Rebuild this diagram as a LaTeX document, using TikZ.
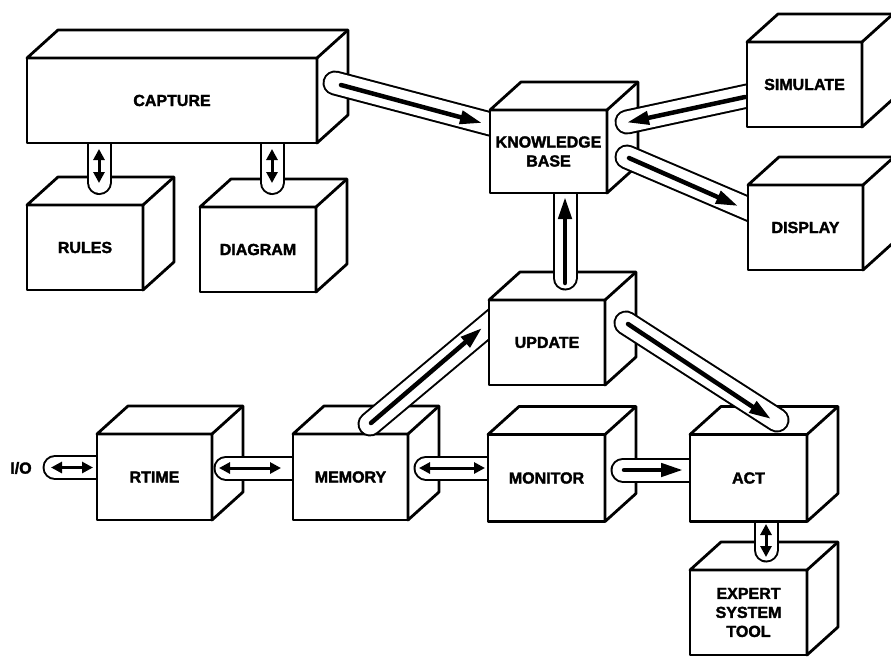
\documentclass[tikz,border=0pt]{standalone}
\usepackage{fontspec}
\setmainfont{Liberation Sans}[BoldFeatures={FakeBold=2}]
\usetikzlibrary{calc,arrows.meta}

\tikzset{
  blockface/.style={draw, fill=white, line width=2.8pt, line join=round,
    inner sep=0pt, outer sep=0pt, align=center,
    font=\bfseries\fontsize{16}{19}\selectfont},
  blockedge/.style={draw, fill=white, line width=2.8pt, line join=round},
  pipe/.style={double=white, double distance=21pt, line width=2pt, line cap=round},
  oneway/.style={line width=4.5pt, line cap=round, -{Triangle[length=22pt,width=13pt]}},
  twoway/.style={line width=3pt, {Triangle[length=11pt,width=11pt]}-{Triangle[length=11pt,width=11pt]}},
  tag/.style={font=\bfseries\fontsize{16}{19}\selectfont, inner sep=0pt}
}

% a block seen in perspective: front face (node), top face and right face
\newcommand\blockcube[5]{%
  \node[blockface, minimum width=#3pt, minimum height=#4pt] (#1) at (#2) {#5};
  \draw[blockedge] (#1.north west) -- ++(31,-28)
    -- ([shift={(31,-28)}]#1.north east)
    -- ([shift={(31,-28)}]#1.south east)
    -- (#1.south east) -- (#1.north east) -- cycle;
  \draw[blockedge] (#1.north east) -- ++(31,-28);
}

\begin{document}
\begin{tikzpicture}[x=1pt, y=-1pt]
\useasboundingbox (0,0) rectangle (891,656);

% --- upper left group ---
\blockcube{rules}{85,247.5}{116}{85}{RULES}
\blockcube{diagram}{258,249.5}{116}{85}{DIAGRAM}
\path (172,100.5) coordinate (capc);
\draw[pipe] ($(capc)+(-73,39.5)$) -- ($(rules)+(14,-65)$);
\draw[twoway] ($(capc)+(-73,48.5)$) -- ($(rules)+(14,-64.5)$);
\draw[pipe] ($(capc)+(100,39.5)$) -- ($(diagram)+(14,-67)$);
\draw[twoway] ($(capc)+(100,48.5)$) -- ($(diagram)+(14,-66.5)$);
\blockcube{capture}{172,100.5}{290}{85}{CAPTURE}

% capture feeds the knowledge base
\path (548.5,151.5) coordinate (kbc);
\draw[pipe] ($(capture)+(163,-17.5)$) -- ($(kbc)+(-50.5,-25.5)$);
\draw[oneway] ($(capture)+(169,-15.5)$) -- ($(kbc)+(-66.5,-28.5)$);

% --- lower row ---
\node[tag] (io) at (21,468) {I/O};
\path (154.5,477) coordinate (rtc);
\draw[pipe] ($(io)+(34,-0.5)$) -- ($(rtc)+(-54.5,-9.5)$);
\draw[twoway] ($(io)+(30,-0.5)$) -- ($(rtc)+(-61.5,-9.5)$);
\blockcube{rtime}{154.5,477}{115}{86}{RTIME}

\path (350.5,477) coordinate (memc);
\draw[pipe] ($(rtime)+(71.5,-9)$) -- ($(memc)+(-54.5,-9)$);
\draw[twoway] ($(rtime)+(64.5,-9)$) -- ($(memc)+(-69.5,-9)$);
\blockcube{memory}{350.5,477}{115}{86}{MEMORY}

\path (547,342.5) coordinate (updc);
\draw[pipe] ($(memory)+(19.5,-53)$) -- ($(updc)+(-47,-27.5)$);
\draw[oneway] ($(memory)+(20.5,-54)$) -- ($(updc)+(-65,-14.5)$);

\path (546.5,478) coordinate (monc);
\draw[pipe] ($(memory)+(75.5,-9)$) -- ($(monc)+(-55.5,-10)$);
\draw[twoway] ($(memory)+(68.5,-9)$) -- ($(monc)+(-61.5,-10)$);
\blockcube{monitor}{546.5,478}{117}{87}{MONITOR}

\path (748.5,478) coordinate (actc);
\draw[pipe] ($(monitor)+(76.5,-8)$) -- ($(actc)+(-55.5,-8)$);
\draw[oneway] ($(monitor)+(77.5,-8)$) -- ($(actc)+(-65.5,-8)$);

\blockcube{expert}{748.5,612.5}{117}{85}{EXPERT\\SYSTEM\\TOOL}
\draw[pipe] ($(actc)+(17.5,37)$) -- ($(expert)+(17.5,-62.5)$);
\draw[twoway] ($(actc)+(17.5,46)$) -- ($(expert)+(17.5,-55.5)$);
\blockcube{act}{748.5,478}{117}{87}{ACT}

% --- update and knowledge base ---
\blockcube{update}{547,342.5}{116}{85}{UPDATE}
\draw[pipe] ($(update)+(18,-64.5)$) -- ($(kbc)+(16.5,33.5)$);
\draw[oneway] ($(update)+(18,-59.5)$) -- ($(kbc)+(16.5,45.5)$);
\blockcube{kb}{548.5,151.5}{117}{83}{KNOWLEDGE\\BASE}

\path (804.5,84.5) coordinate (simc);
\path (805.5,227.5) coordinate (disc);
\draw[pipe] ($(kb)+(78.5,-29.5)$) -- ($(simc)+(-52.5,10.5)$);
\draw[oneway] ($(simc)+(-59.5,12.5)$) -- ($(kb)+(78.5,-29)$);
\draw[pipe] ($(kb)+(78.5,5.5)$) -- ($(disc)+(-47.5,-14.5)$);
\draw[oneway] ($(kb)+(80.5,6.5)$) -- ($(disc)+(-67.5,-21.5)$);
\blockcube{simulate}{804.5,84.5}{115}{85}{SIMULATE}
\blockcube{display}{805.5,227.5}{115}{85}{DISPLAY}

% update drives act
\draw[pipe] ($(update)+(79,-19.5)$) -- ($(act)+(28.5,-58)$);
\draw[oneway] ($(update)+(81,-18.5)$) -- ($(act)+(22.5,-59)$);
\end{tikzpicture}
\end{document}
